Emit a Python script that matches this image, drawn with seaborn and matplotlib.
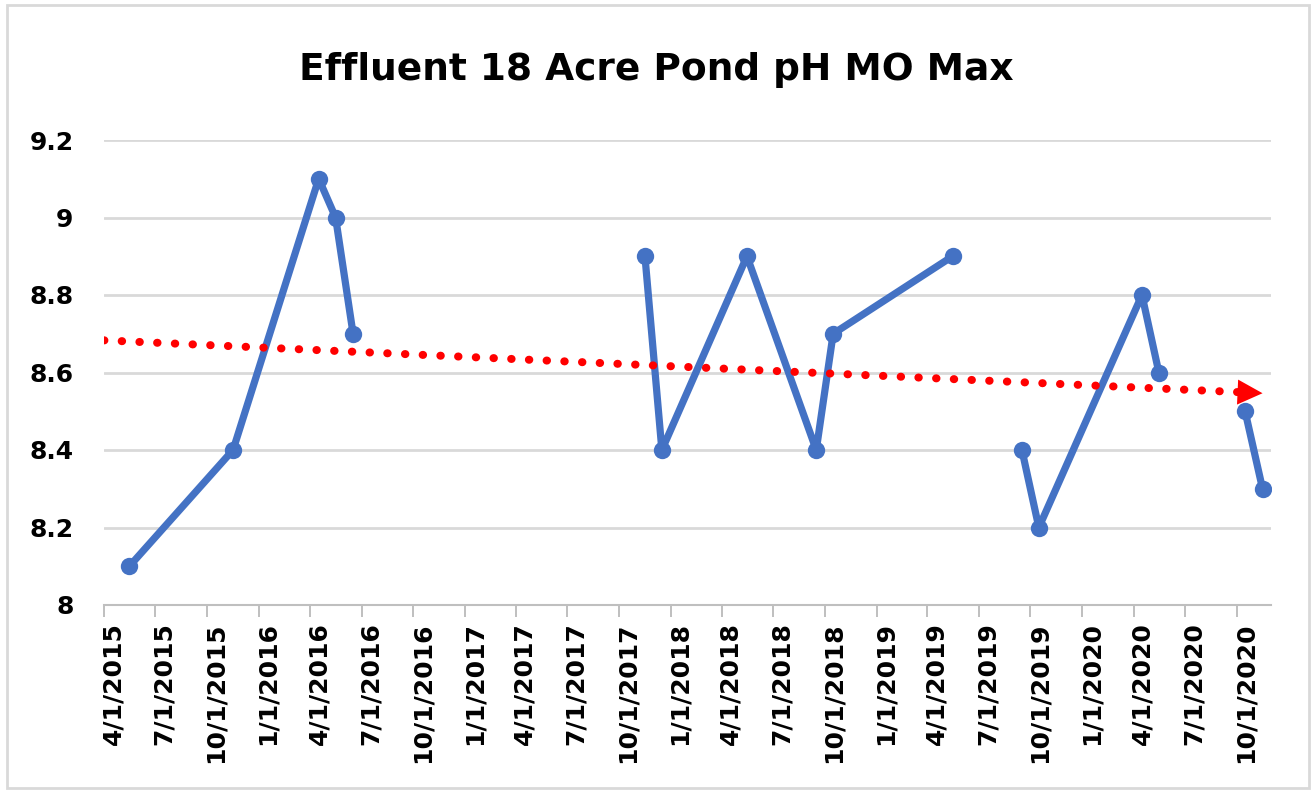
import numpy as np
import pandas as pd
import seaborn as sns
import matplotlib.pyplot as plt
import matplotlib.dates as mdates
import matplotlib.ticker as ticker
from matplotlib.patches import Rectangle
from matplotlib.transforms import ScaledTranslation


# monthly max pH readings, blank months (nan) break the line like in the sheet
months = ['2015-05', '2015-11', '2016-04', '2016-05', '2016-06', '2016-07',
          '2017-11', '2017-12', '2018-05', '2018-09', '2018-10', '2019-05', '2019-06',
          '2019-09', '2019-10', '2020-04', '2020-05', '2020-06',
          '2020-10', '2020-11']
ph_max = [8.1, 8.4, 9.1, 9.0, 8.7, np.nan,
          8.9, 8.4, 8.9, 8.4, 8.7, 8.9, np.nan,
          8.4, 8.2, 8.8, 8.6, np.nan,
          8.5, 8.3]

axis_start = '2015-04-01'
axis_end = '2020-12-01'
title = 'Effluent 18 Acre Pond pH MO Max'

df = pd.DataFrame({'month': months, 'ph': ph_max})
# points sit in the middle of their month (Excel date axis)
df['date'] = pd.to_datetime(df['month']) + pd.Timedelta(days=15)
df['seg'] = df['ph'].isna().cumsum()
df = df.dropna()

sns.set_style('white')
plt.rcParams['font.family'] = ['DejaVu Sans']
plt.rcParams['text.color'] = 'black'

fig = plt.figure(figsize=(13.12, 7.90), dpi=100)
ax = fig.add_axes([104 / 1312, 1 - 605 / 790, (1271 - 104) / 1312, (605 - 140) / 790])

sns.lineplot(data=df, x='date', y='ph', units='seg', estimator=None,
             color='#4472C4', lw=5.2, marker='o', markersize=12.5,
             markeredgewidth=0, ax=ax, zorder=3)

# linear trendline over the dates
xn = mdates.date2num(df['date'])
coef = np.polyfit(xn, df['ph'], 1)
t0 = mdates.date2num(pd.Timestamp(axis_start))
t1 = xn.max()
ax.plot([t0, t1 - 30], np.polyval(coef, [t0, t1 - 30]), color='red', lw=5.8,
        linestyle=(0, (0.05, 2.15)), dash_capstyle='round', zorder=4)
ax.annotate('', xy=(t1, np.polyval(coef, t1)), xytext=(t1 - 40, np.polyval(coef, t1 - 40)),
            arrowprops=dict(arrowstyle='-|>,head_length=1.8,head_width=0.9',
                            color='red', lw=0, mutation_scale=10,
                            shrinkA=0, shrinkB=0), zorder=5)

ax.set_xlim(pd.Timestamp(axis_start), pd.Timestamp(axis_end))
ax.set_ylim(8, 9.2)
ax.yaxis.set_major_locator(ticker.MultipleLocator(0.2))
ax.yaxis.set_major_formatter(ticker.FuncFormatter(lambda v, pos: '{:g}'.format(round(v, 1))))
ax.xaxis.set_major_locator(mdates.MonthLocator(bymonth=[1, 4, 7, 10]))
ax.xaxis.set_major_formatter(ticker.FuncFormatter(
    lambda v, pos: '{d.month}/{d.day}/{d.year}'.format(d=mdates.num2date(v))))

ax.set_xlabel('')
ax.set_ylabel('')
ax.yaxis.grid(True, color='#D9D9D9', lw=2)
ax.xaxis.grid(False)
for s in ['left', 'right', 'top']:
    ax.spines[s].set_visible(False)
ax.spines['bottom'].set_color('#BFBFBF')
ax.spines['bottom'].set_linewidth(1.5)

ax.tick_params(axis='y', length=0, pad=22, labelsize=18, labelcolor='black')
ax.tick_params(axis='x', direction='out', length=8.5, width=1.4, color='#BFBFBF',
               pad=4, labelsize=18, labelrotation=90, bottom=True, labelcolor='black')
for lbl in ax.get_yticklabels() + ax.get_xticklabels():
    lbl.set_fontweight('bold')

fig.text(0.5, 1 - 70 / 790, title, ha='center', va='center', fontsize=27,
         fontweight='bold', color='black')

fig.patches.append(Rectangle((7 / 1312, 2 / 790), 1302 / 1312, 783 / 790,
                             transform=fig.transFigure, fill=False,
                             ec='#D9D9D9', lw=2))

fig.canvas.draw()
shift = ScaledTranslation(9 / 100, 0, fig.dpi_scale_trans)
for t in ax.xaxis.get_major_ticks():
    t.label1.set_transform(t.label1.get_transform() + shift)

fig.savefig('out.png', dpi=100)
